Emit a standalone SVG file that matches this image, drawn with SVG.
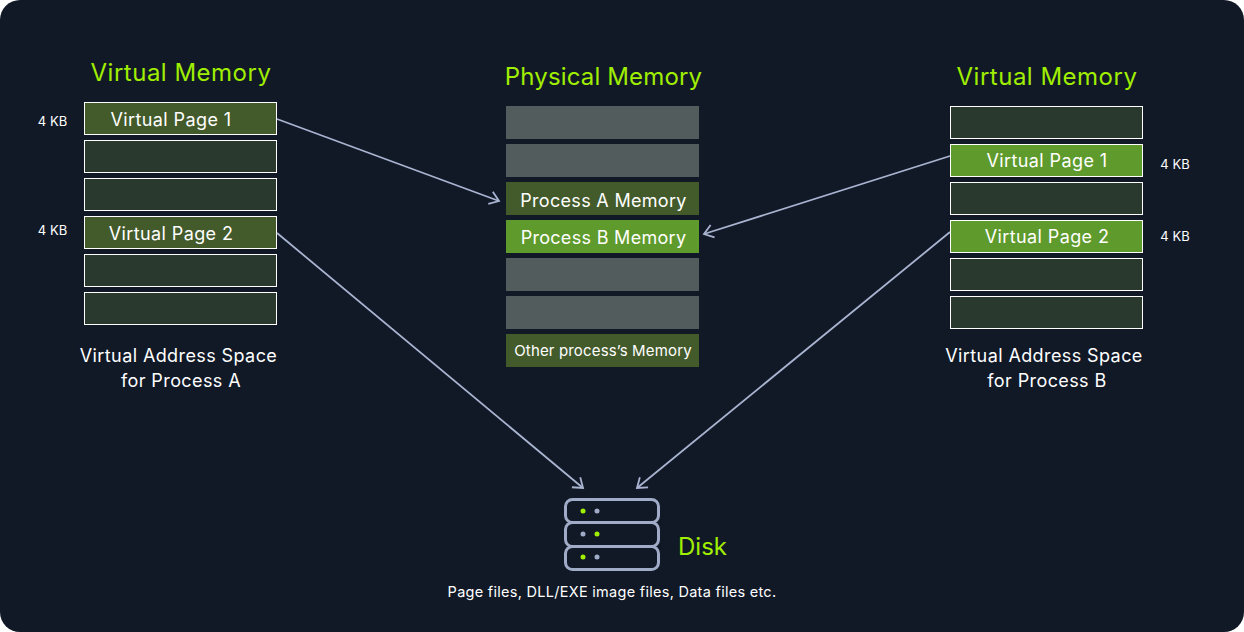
<svg xmlns="http://www.w3.org/2000/svg" width="1244" height="632" viewBox="0 0 1244 632">
<defs>
<marker id="a" viewBox="0 0 16 16" refX="14" refY="8" markerWidth="16" markerHeight="16" markerUnits="userSpaceOnUse" orient="auto"><path d="M5 1.500L14 8L5 14.500" fill="none" stroke="#a9b4d0" stroke-width="1.800"/></marker>
</defs>
<style>
text{font-family:Inter,"Noto Sans",sans-serif;fill:#fff}
.h{font-size:24px;fill:#a0ee00;text-anchor:middle;letter-spacing:.5px}
.m{font-size:18px;text-anchor:middle;letter-spacing:.4px}
.s{font-size:13px;text-anchor:middle}
.e{fill:#2a392e;stroke:#fff}
.a{fill:#435a2b;stroke:#fff}
.b{fill:#5f9a2c;stroke:#fff}
.g{fill:#535c5c}
.c{fill:none;stroke:#a9b4d0;stroke-width:1.800;marker-end:url(#a)}
.d{fill:none;stroke:#a0abc8;stroke-width:3}
</style>
<rect width="1244" height="632" rx="20" fill="#111927"/>
<g id="va">
<text class="h" x="181" y="81">Virtual Memory</text>
<text class="s" x="52.500" y="126">4 KB</text>
<text class="s" x="52.500" y="235">4 KB</text>
<rect class="a" x="84.500" y="102.500" width="192" height="32"/><text class="m" x="171" y="125.500">Virtual Page 1</text>
<rect class="e" x="84.500" y="140.500" width="192" height="32"/>
<rect class="e" x="84.500" y="178.500" width="192" height="32"/>
<rect class="a" x="84.500" y="216.500" width="192" height="32"/><text class="m" x="171" y="239.500">Virtual Page 2</text>
<rect class="e" x="84.500" y="254.500" width="192" height="32"/>
<rect class="e" x="84.500" y="292.500" width="192" height="32"/>
<text class="m" x="178.500" y="362">Virtual Address Space</text>
<text class="m" x="181" y="387">for Process A</text>
</g>
<g id="pm">
<text class="h" x="603.500" y="85" style="letter-spacing:.15px">Physical Memory</text>
<rect class="g" x="506" y="106" width="193" height="33"/>
<rect class="g" x="506" y="144" width="193" height="33"/>
<rect fill="#435a2b" x="506" y="182" width="193" height="33"/><text class="m" x="603.500" y="207" style="letter-spacing:.3px">Process A Memory</text>
<rect fill="#5f9a2c" x="506" y="220" width="193" height="33"/><text class="m" x="603.500" y="244" style="letter-spacing:.3px">Process B Memory</text>
<rect class="g" x="506" y="258" width="193" height="33"/>
<rect class="g" x="506" y="296" width="193" height="33"/>
<rect fill="#435a2b" x="506" y="334" width="193" height="33"/><text x="603" y="356" font-size="15" text-anchor="middle" letter-spacing=".15">Other process’s Memory</text>
</g>
<g id="vb">
<text class="h" x="1047" y="85">Virtual Memory</text>
<text class="s" x="1175" y="169">4 KB</text>
<text class="s" x="1175" y="241">4 KB</text>
<rect class="e" x="950.500" y="106.500" width="192" height="32"/>
<rect class="b" x="950.500" y="144.500" width="192" height="32"/><text class="m" x="1047" y="167">Virtual Page 1</text>
<rect class="e" x="950.500" y="182.500" width="192" height="32"/>
<rect class="b" x="950.500" y="220.500" width="192" height="32"/><text class="m" x="1047" y="243">Virtual Page 2</text>
<rect class="e" x="950.500" y="258.500" width="192" height="32"/>
<rect class="e" x="950.500" y="296.500" width="192" height="32"/>
<text class="m" x="1044" y="362">Virtual Address Space</text>
<text class="m" x="1047" y="387">for Process B</text>
</g>
<g id="connectors">
<path class="c" d="M277 119L499 201"/>
<path class="c" d="M950 156L704 234"/>
<path class="c" d="M277 233L583 488"/>
<path class="c" d="M950 232L637 488"/>
</g>
<g id="disk">
<rect class="d" x="565.500" y="499.500" width="93" height="23" rx="7"/>
<rect class="d" x="565.500" y="522.500" width="93" height="24" rx="7"/>
<rect class="d" x="565.500" y="546.500" width="93" height="23" rx="7"/>
<circle cx="583" cy="511" r="2.500" fill="#a0ee00"/><circle cx="597" cy="511" r="2.500" fill="#a0abc8"/>
<circle cx="583" cy="534" r="2.500" fill="#a0abc8"/><circle cx="597" cy="534" r="2.500" fill="#a0ee00"/>
<circle cx="583" cy="557" r="2.500" fill="#a0ee00"/><circle cx="597" cy="557" r="2.500" fill="#a0abc8"/>
<text class="h" x="702.500" y="555" style="letter-spacing:0">Disk</text>
<text x="612" y="597" font-size="14.500" text-anchor="middle" letter-spacing=".28">Page files, DLL/EXE image files, Data files etc.</text>
</g>
</svg>
